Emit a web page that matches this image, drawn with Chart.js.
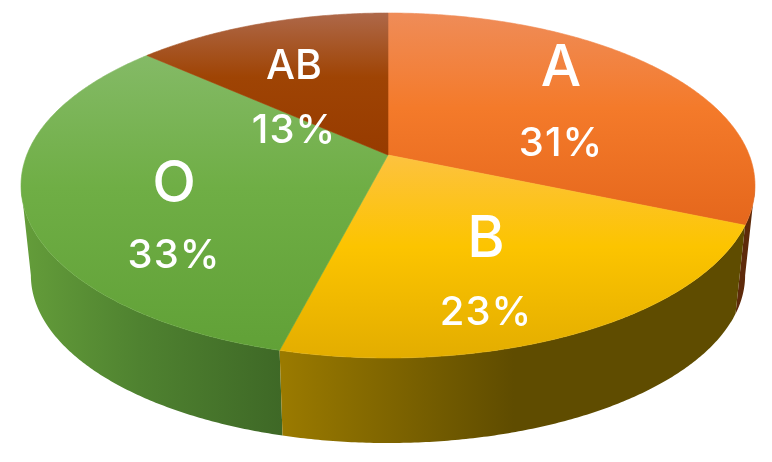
<!DOCTYPE html>
<html>
<head>
<meta charset="utf-8">
<script src="https://cdn.jsdelivr.net/npm/chart.js@4"></script>
<style>html,body{margin:0;padding:0;background:#fff}canvas{display:block}</style>
</head>
<body>
<canvas id="c" width="772" height="462"></canvas>
<script>
const categories = ['A', 'B', 'O', 'AB'];
const values = [31.4, 22.6, 32.6, 13.4];
const percentLabels = ['31%', '23%', '33%', '13%'];

const topStops = [
  ['#ef8c58', '#f47a2a', '#e5671c'],
  ['#fdc23f', '#fcc400', '#e3ad00'],
  ['#84ba66', '#6fae45', '#61a137'],
  ['#ae6849', '#9f4404', '#973b00']
];
const wallStops = [
  [[0, '#5e2a0a'], [1, '#5e2a0a']],
  [[0, '#9a7a00'], [0.5, '#5f4c00'], [1, '#5f4c00']],
  [[0, '#649d3a'], [0.45, '#4f8230'], [1, '#3e6826']],
  [[0, '#6b2c00'], [1, '#6b2c00']]
];
const wallSpans = [[738, 755], [283, 745], [22, 283], [147, 388]];
const labelSpots = [
  {x: 561, name: 69, pct: 144, size: 57, pctSize: 40},
  {x: 486, name: 240, pct: 313, size: 57, pctSize: 40},
  {x: 174, name: 185, pct: 256, size: 57, pctSize: 40},
  {x: 294, name: 67, pct: 131, size: 41, pctSize: 40}
];

const upperDisc = {cx: 388, cy: 155, rx: 361.2, ry: 167.1, k: 0.1768};
const lowerDisc = {cx: 388, cy: 245.5, rx: 351.5, ry: 162.6, k: 0.1768};
const project = (g, t) => {
  const d = 1 - g.k * Math.sin(t);
  return [g.cx + g.rx * Math.cos(t) / d, g.cy + g.ry * Math.sin(t) / d];
};
const STEP = Math.PI / 360;
const rimPoints = (g, a, b) => {
  const n = Math.max(2, Math.ceil((b - a) / STEP));
  const pts = [];
  for (let i = 0; i <= n; i++) pts.push(project(g, a + (b - a) * i / n));
  return pts;
};
const SIL_R = Math.asin(upperDisc.k);
const SIL_L = Math.PI - SIL_R;

const pie3d = {
  id: 'pie3d',
  beforeDatasetsDraw(chart) {
    const ctx = chart.ctx;
    const arcs = chart.getDatasetMeta(0).data;
    ctx.save();
    // side walls: only the near part of the rim, between the two silhouette angles
    [0, 2, 1].forEach(i => {
      const a = Math.max(arcs[i].startAngle, SIL_R);
      const b = Math.min(arcs[i].endAngle, SIL_L);
      if (b <= a) return;
      const up = rimPoints(upperDisc, a, b);
      const low = rimPoints(lowerDisc, a, b).reverse();
      const g = ctx.createLinearGradient(wallSpans[i][0], 0, wallSpans[i][1], 0);
      wallStops[i].forEach(s => g.addColorStop(s[0], s[1]));
      ctx.beginPath();
      up.concat(low).forEach((p, j) => j ? ctx.lineTo(p[0], p[1]) : ctx.moveTo(p[0], p[1]));
      ctx.closePath();
      ctx.fillStyle = g;
      ctx.fill();
    });
    // top faces
    arcs.forEach((a, i) => {
      const rim = rimPoints(upperDisc, a.startAngle, a.endAngle);
      const apex = [upperDisc.cx, upperDisc.cy];
      const ys = rim.concat([apex]).map(p => p[1]);
      const g = ctx.createLinearGradient(0, Math.min(...ys), 0, Math.max(...ys));
      g.addColorStop(0, topStops[i][0]);
      g.addColorStop(0.45, topStops[i][1]);
      g.addColorStop(1, topStops[i][2]);
      ctx.beginPath();
      ctx.moveTo(apex[0], apex[1]);
      rim.forEach(p => ctx.lineTo(p[0], p[1]));
      ctx.closePath();
      ctx.fillStyle = g;
      ctx.fill();
      ctx.strokeStyle = g;
      ctx.lineWidth = 0.6;
      ctx.stroke();
    });
    ctx.restore();
    return false;
  },
  afterDraw(chart) {
    const ctx = chart.ctx;
    ctx.save();
    ctx.fillStyle = '#ffffff';
    ctx.textAlign = 'center';
    ctx.textBaseline = 'middle';
    categories.forEach((c, i) => {
      const s = labelSpots[i];
      ctx.font = '500 ' + s.size + 'px Inter';
      ctx.letterSpacing = '0px';
      ctx.fillText(c, s.x, s.name);
      ctx.font = '500 ' + s.pctSize + 'px Inter';
      ctx.letterSpacing = '1px';
      ctx.fillText(percentLabels[i], s.x, s.pct);
    });
    ctx.restore();
  }
};

new Chart(document.getElementById('c'), {
  type: 'pie',
  data: {labels: categories, datasets: [{data: values}]},
  options: {
    responsive: false,
    animation: false,
    devicePixelRatio: 1,
    plugins: {legend: {display: false}, tooltip: {enabled: false}}
  },
  plugins: [pie3d]
});
</script>
</body>
</html>
